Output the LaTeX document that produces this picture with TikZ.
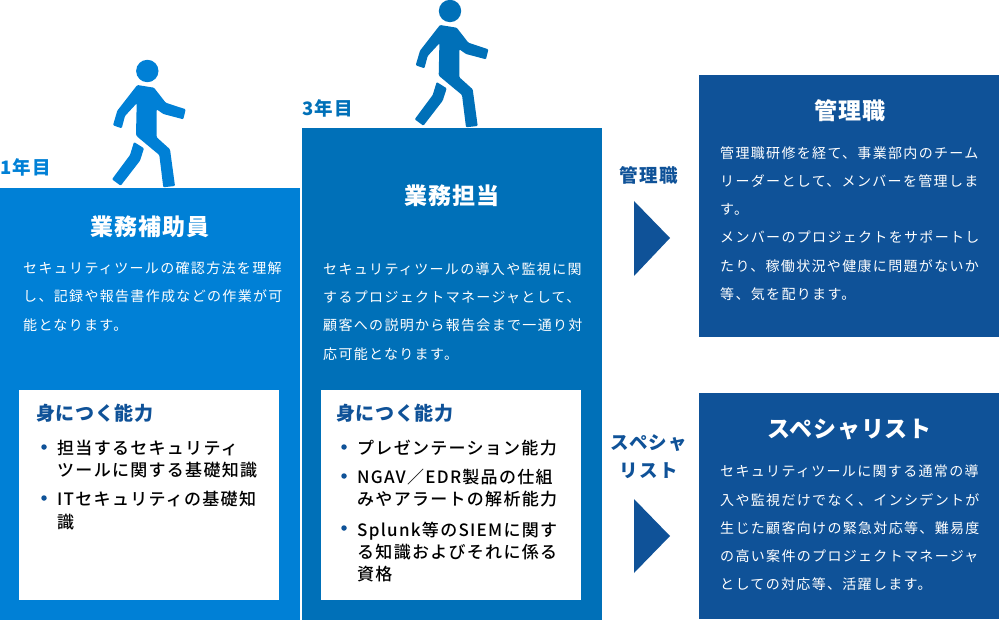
\documentclass[tikz,border=0pt]{standalone}
\usepackage{fontspec}
\usepackage{tikz}
\setmainfont{Noto Sans CJK JP}
\newfontfamily\bodyjp[LetterSpace=9.5]{Noto Sans CJK JP}
\newfontfamily\itemjp[LetterSpace=7.6]{Noto Sans CJK JP Medium}
\newfontfamily\headjp[LetterSpace=3.6]{Noto Sans CJK JP}
\newfontfamily\pathjp[LetterSpace=7]{Noto Sans CJK JP}
\definecolor{stepBlue}{RGB}{0, 128, 214}
\definecolor{midBlue}{RGB}{0, 112, 184}
\definecolor{deepBlue}{RGB}{15, 82, 152}
\tikzset{
  stagebox/.style={anchor=north west, inner sep=0pt, outer sep=0pt},
  titletext/.style={font=\headjp\bfseries\fontsize{23}{27}\selectfont, text=white, inner sep=0pt},
  bodytext/.style={font=\bodyjp\fontsize{14}{28.3}\selectfont, text=white, align=left, anchor=west, inner sep=0pt},
  yeartext/.style={font=\pathjp\bfseries\fontsize{18.5}{22}\selectfont, anchor=west, inner sep=0pt},
  pathtext/.style={font=\pathjp\bfseries\fontsize{18.5}{28}\selectfont, text=deepBlue, align=center, inner sep=0pt},
  skilltext/.style={font=\headjp\bfseries\fontsize{19}{22}\selectfont, text=deepBlue, anchor=west, inner sep=0pt},
  itemtext/.style={font=\itemjp\fontsize{17}{22.3}\selectfont, text=black, align=left, anchor=west, inner sep=0pt},
  itemdot/.style={circle, fill=deepBlue, minimum size=5.5pt, inner sep=0pt},
  walker/.pic={
    \fill (0,0) circle (11.2);
    \fill[rounded corners=1pt] (-10,14) -- (6.7,16.7) -- (18.4,31.7) -- (38.4,38.3) -- (36,48.3)
      -- (16,43) -- (9.4,38.3) -- (9.4,66.3) -- (22.7,78.3) -- (27.7,115) -- (16,116.3)
      -- (12,84) -- (-10,65.7) -- (-11.3,64) -- (-10.6,32.3) -- (-22.3,45) -- (-25.6,57.3)
      -- (-34.3,54.3) -- (-30,39.7) -- cycle;
    \fill[rounded corners=1pt] (-13.3,71) -- (-3.3,77.3) -- (-7.3,89.7) -- (-26.6,114.7)
      -- (-35.3,108.3) -- (-17.3,84) -- cycle;
  }
}
\begin{document}
\begin{tikzpicture}[x=1pt, y=-1pt]
  \useasboundingbox (0,0) rectangle (999,620);
  % stages
  \node[stagebox, fill=stepBlue, minimum width=300pt, minimum height=432pt] (assist) at (0,188) {};
  \node[stagebox, fill=midBlue, minimum width=300pt, minimum height=492pt] (lead) at (302,128) {};
  \node[stagebox, fill=deepBlue, minimum width=300pt, minimum height=262pt] (manager) at (699,75) {};
  \node[stagebox, fill=deepBlue, minimum width=300pt, minimum height=226pt] (expert) at (699,393) {};
  \node[stagebox, fill=white, minimum width=260pt, minimum height=210pt] (assistskills) at (19,390) {};
  \node[stagebox, fill=white, minimum width=260pt, minimum height=210pt] (leadskills) at (321,390) {};
  % walkers
  \pic[stepBlue] at (147.3,71) {walker};
  \pic[midBlue] at (450,11) {walker};
  \node[yeartext, text=stepBlue] (yearone) at (0,167.5) {1年目};
  \node[yeartext, text=midBlue] (yearthree) at (302,108) {3年目};
  % first stage
  \node[titletext] (assisttitle) at (150,226.5) {業務補助員};
  \node[bodytext] (assistbody) at (23,296.5) {セキュリティツールの確認方法を理解\\し、記録や報告書作成などの作業が可\\能となります。};
  \node[skilltext] (assisthead) at (36,413.5) {身につく能力};
  \node[itemdot] (assistdota) at (44,447) {};
  \node[itemtext] (assistitema) at (57,459) {担当するセキュリティ\\ツールに関する基礎知識};
  \node[itemdot] (assistdotb) at (44,498) {};
  \node[itemtext] (assistitemb) at (57,510.5) {ITセキュリティの基礎知\\識};
  % second stage
  \node[titletext] (leadtitle) at (452,195.5) {業務担当};
  \node[bodytext] (leadbody) at (323,311.5) {セキュリティツールの導入や監視に関\\するプロジェクトマネージャとして、\\顧客への説明から報告会まで一通り対\\応可能となります。};
  \node[skilltext] (leadhead) at (336,413.5) {身につく能力};
  \node[itemdot] (leaddota) at (344,447) {};
  \node[itemtext] (leaditema) at (357,448) {プレゼンテーション能力};
  \node[itemdot] (leaddotb) at (344,476) {};
  \node[itemtext] (leaditemb) at (357,488) {NGAV／EDR製品の仕組\\みやアラートの解析能力};
  \node[itemdot] (leaddotc) at (344,528) {};
  \node[itemtext] (leaditemc) at (357,552) {Splunk等のSIEMに関す\\る知識およびそれに係る\\資格};
  % career paths
  \node[pathtext] (managerlabel) at (649,175.5) {管理職};
  \fill[deepBlue] (634,201) -- (670,238) -- (634,276) -- cycle;
  \node[pathtext] (expertlabel) at (649,457) {スペシャ\\リスト};
  \fill[deepBlue] (634,499) -- (670,536) -- (634,573) -- cycle;
  \node[titletext] (managertitle) at (850,110.5) {管理職};
  \node[bodytext] (managerbody) at (720,223.5) {管理職研修を経て、事業部内のチーム\\リーダーとして、メンバーを管理しま\\す。\\メンバーのプロジェクトをサポートし\\たり、稼働状況や健康に問題がないか\\等、気を配ります。};
  \node[titletext] (experttitle) at (849.5,429.5) {スペシャリスト};
  \node[bodytext] (expertbody) at (720,528) {セキュリティツールに関する通常の導\\入や監視だけでなく、インシデントが\\生じた顧客向けの緊急対応等、難易度\\の高い案件のプロジェクトマネージャ\\としての対応等、活躍します。};
\end{tikzpicture}
\end{document}
